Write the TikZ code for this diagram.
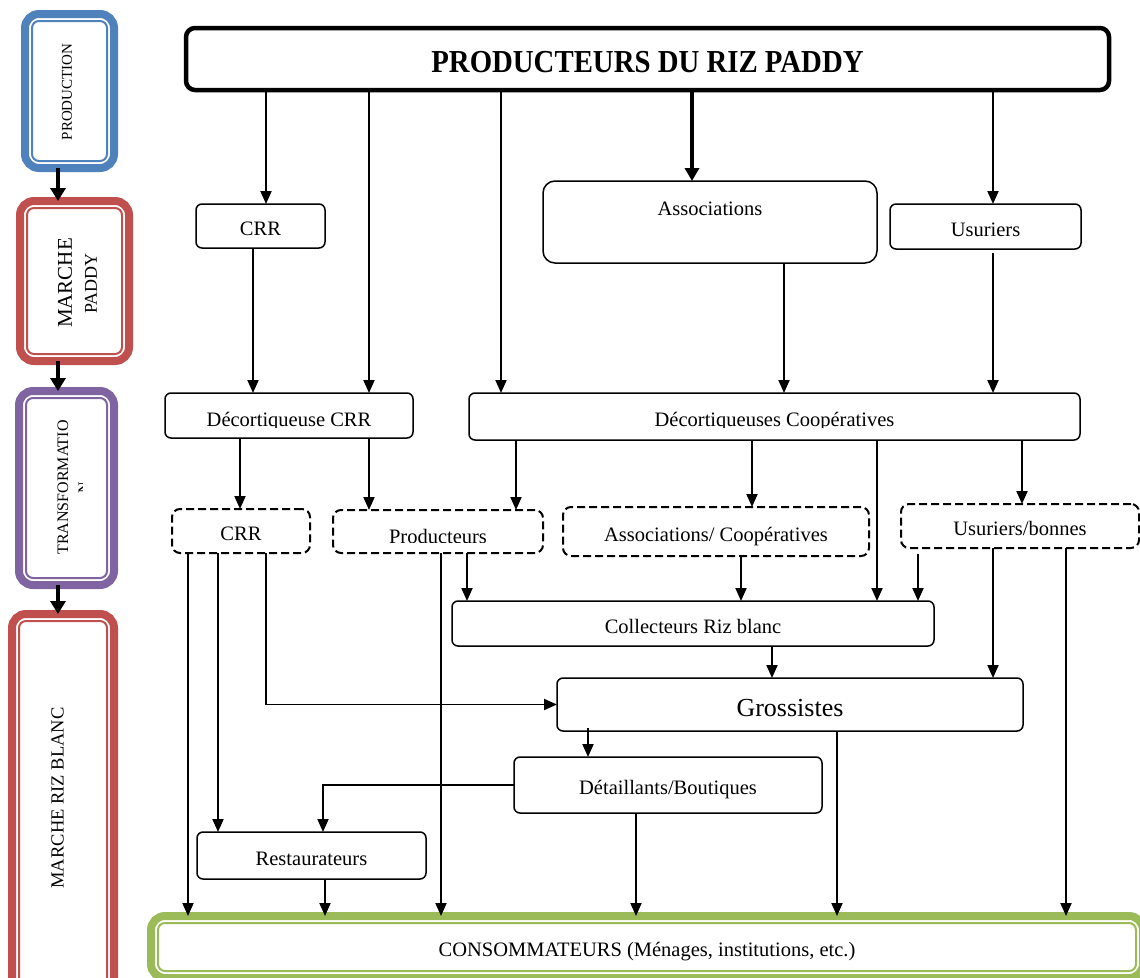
\documentclass[tikz,border=0pt]{standalone}
\usepackage{fontspec}
\setmainfont{Liberation Serif}
\usetikzlibrary{arrows.meta}
\definecolor{pblue}{HTML}{4F81BD}
\definecolor{pred}{HTML}{C0504D}
\definecolor{ppurple}{HTML}{8064A2}
\definecolor{pgreen}{HTML}{9BBB59}
\begin{document}
\begin{tikzpicture}[x=1pt,y=-1pt,
  every node/.style={inner sep=0pt, outer sep=0pt},
  lbl/.style={font=\fontsize{20.5}{24}\selectfont, text height=19.6pt, text depth=0pt},
  box/.style={draw, line width=1.5pt, rounded corners=6pt, lbl},
  dbox/.style={draw, line width=2pt, rounded corners=8pt, dash pattern=on 8pt off 4pt, lbl},
  stage/.style={draw=#1, line width=8pt, rounded corners=14pt},
  innerline/.style={draw=#1, line width=2pt, rounded corners=7pt},
  arr/.style={line width=1.9pt, -{Triangle[length=13pt,width=11pt]}},
  tarr/.style={line width=4.5pt, -{Triangle[length=13pt,width=15pt]}},
]
\useasboundingbox (0,0) rectangle (1140,977);
\clip (0,0) rectangle (1140,977);

% ---------- left stage column ----------
\node[stage=pblue, minimum width=89pt, minimum height=154pt] (sProd) at (69.5,91) {};
\node[stage=pred, minimum width=109pt, minimum height=160pt] (sMP) at (74.5,281) {};
\node[stage=ppurple, minimum width=95pt, minimum height=194pt] (sTr) at (66.5,488) {};
\node[stage=pred, minimum width=102pt, minimum height=382pt] (sMRB) at (63,805) {};
\foreach \n/\c in {sProd/pblue, sMP/pred, sTr/ppurple, sMRB/pred}
  \draw[innerline=\c] ([shift={(7,7)}]\n.north west) rectangle ([shift={(-7,-7)}]\n.south east);

\node[rotate=90, font=\fontsize{15}{18}\selectfont] (tProd) at (67,92) {PRODUCTION};
\node[rotate=90, font=\fontsize{21}{24}\selectfont] (tMP1) at (65,283) {MARCHE};
\node[rotate=90, font=\fontsize{18}{22}\selectfont] (tMP2) at (91,283.5) {PADDY};
\node[rotate=90, font=\fontsize{16}{19}\selectfont] (tTr) at (63,487.5) {TRANSFORMATIO};
\begin{scope}
  \clip (70,470) rectangle (82.5,505);
  \node[rotate=90, font=\fontsize{16}{19}\selectfont] (tTrN) at (84,488) {N};
\end{scope}
\node[rotate=90, font=\fontsize{18.5}{22}\selectfont] (tMRB) at (57.5,798) {MARCHE RIZ BLANC};

\draw[tarr] (sProd.south -| 58,0) -- (sMP.north -| 58,0);
\draw[tarr] (sMP.south -| 58,0) -- (sTr.north -| 58,0);
\draw[tarr] (sTr.south -| 58,0) -- (sMRB.north -| 58,0);

% ---------- consumers ----------
\node[stage=pgreen, minimum width=992pt, minimum height=62pt, lbl] (conso) at (647,947) {CONSOMMATEURS (Ménages, institutions, etc.)};
\draw[innerline=pgreen] ([shift={(7,7)}]conso.north west) rectangle ([shift={(-7,-7)}]conso.south east);

% ---------- main boxes ----------
\node[box, line width=4.5pt, rounded corners=9pt, minimum width=923pt, minimum height=62pt,
      font={\fontsize{32}{36}\selectfont\bfseries\addfontfeature{FakeStretch=0.9}}, text height=27.6pt] (title) at (647.5,59) {PRODUCTEURS DU RIZ PADDY};

\node[box, minimum width=129pt, minimum height=44pt] (crr1) at (260.5,226) {CRR};
\node[box, rounded corners=12pt, minimum width=334pt, minimum height=82pt,
      label={[lbl, anchor=center, yshift=-25pt]north:Associations}] (assoc) at (710,222) {};
\node[box, minimum width=191pt, minimum height=45pt] (usur) at (985.5,226.5) {Usuriers};

\node[box, minimum width=248pt, minimum height=45pt] (dcrr) at (289,415.5) {};
\node[box, minimum width=611pt, minimum height=47pt] (dcoop) at (774.5,416.5) {};
\begin{scope}
  \clip (150,380) rectangle (1100,427);
  \node[lbl] (dcrrT) at ([yshift=-1pt]dcrr.center) {Décortiqueuse CRR};
  \node[lbl] (dcoopT) at (dcoop.center) {Décortiqueuses Coopératives};
\end{scope}

\node[dbox, minimum width=138pt, minimum height=44pt] (crr2) at (241,531) {CRR};
\node[dbox, minimum width=210pt, minimum height=43pt] (prod) at (438,531.5) {};
\begin{scope}
  \clip (340,515) rectangle (540,542);
  \node[lbl] (prodT) at ([yshift=-2.5pt]prod.center) {Producteurs};
\end{scope}
\node[dbox, minimum width=306pt, minimum height=49pt] (acoop) at (716,531.5) {Associations/ Coopératives};
\node[dbox, minimum width=238pt, minimum height=44pt] (ubon) at (1020,526) {Usuriers/bonnes};

\node[box, minimum width=482pt, minimum height=45pt] (coll) at (693,623.5) {Collecteurs Riz blanc};
\node[box, minimum width=466pt, minimum height=53pt, font=\fontsize{26}{30}\selectfont, text height=24.2pt] (gros) at (790,704.5) {Grossistes};
\node[box, minimum width=308pt, minimum height=56pt] (detail) at (668,785) {Détaillants/Boutiques};
\node[box, minimum width=229pt, minimum height=47pt] (resto) at (311.5,855.5) {Restaurateurs};

% ---------- connectors ----------
\draw[arr] (title.south -| 266,0) -- (crr1.north -| 266,0);
\draw[arr] (title.south -| 369,0) -- (dcrr.north -| 369,0);
\draw[arr] (title.south -| 501,0) -- (dcoop.north -| 501,0);
\draw[line width=4pt, -{Triangle[length=13pt,width=14pt]}] (title.south -| 692,0) -- (assoc.north -| 692,0);
\draw[arr] (title.south -| 993,0) -- (usur.north -| 993,0);

\draw[arr] (crr1.south -| 253,0) -- (dcrr.north -| 253,0);
\draw[arr] (assoc.south -| 784,0) -- (dcoop.north -| 784,0);
\draw[arr] ([yshift=-4pt]usur.south -| 993,0) -- (dcoop.north -| 993,0);

\draw[arr] (dcrr.south -| 240,0) -- (crr2.north -| 240,0);
\draw[arr] (dcrr.south -| 369,0) -- (prod.north -| 369,0);
\draw[arr] (dcoop.south -| 516,0) -- (prod.north -| 516,0);
\draw[arr] (dcoop.south -| 752,0) -- (acoop.north -| 752,0);
\draw[arr] (dcoop.south -| 877,0) -- (coll.north -| 877,0);
\draw[arr] (dcoop.south -| 1022,0) -- (ubon.north -| 1022,0);

\draw[arr] (crr2.south -| 188,0) -- (conso.north -| 188,0);
\draw[arr] (crr2.south -| 218,0) -- (resto.north -| 218,0);
\draw[arr] (crr2.south -| 266,0) |- (gros.west);
\draw[arr] (prod.south -| 441,0) -- (conso.north -| 441,0);
\draw[arr] (prod.south -| 467,0) -- (coll.north -| 467,0);
\draw[arr] (acoop.south -| 741,0) -- (coll.north -| 741,0);
\draw[arr] ([yshift=-6pt]ubon.south -| 918,0) -- (coll.north -| 918,0);
\draw[arr] (ubon.south -| 993,0) -- (gros.north -| 993,0);
\draw[arr] (ubon.south -| 1066,0) -- (conso.north -| 1066,0);

\draw[arr] (coll.south -| 772,0) -- (gros.north -| 772,0);
\draw[arr] ([yshift=3pt]gros.south -| 588,0) -- (detail.north -| 588,0);
\draw[arr] (gros.south -| 837,0) -- (conso.north -| 837,0);
\draw[arr] (detail.west) -| (323,0 |- resto.north);
\draw[arr] (detail.south -| 636,0) -- (conso.north -| 636,0);
\draw[arr] (resto.south -| 325,0) -- (conso.north -| 325,0);
\end{tikzpicture}
\end{document}
